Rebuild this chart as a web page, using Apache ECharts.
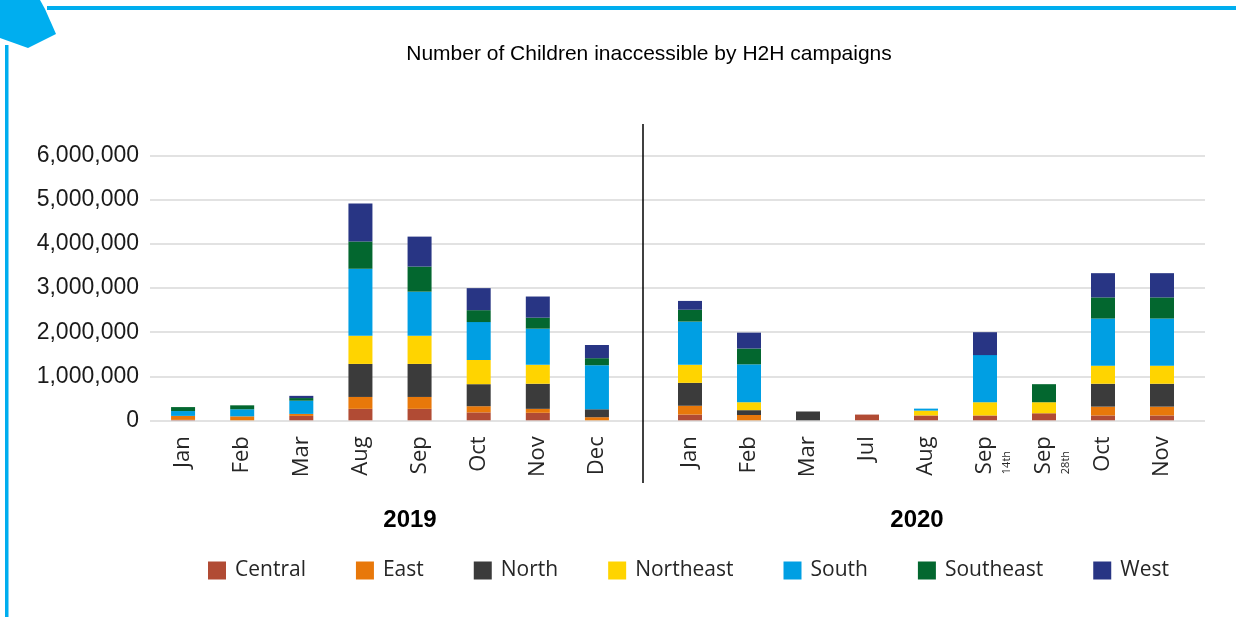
<!DOCTYPE html>
<html>
<head>
<meta charset="utf-8">
<script src="https://cdn.jsdelivr.net/npm/echarts@6.0.0/dist/echarts.min.js"></script>
<style>
  html, body { margin: 0; padding: 0; background: #fff; }
  #chart { width: 1236px; height: 617px; }
</style>
</head>
<body>
<div id="chart"></div>
<script>
const months2019 = ['Jan', 'Feb', 'Mar', 'Aug', 'Sep', 'Oct', 'Nov', 'Dec'];
const months2020 = ['Jan', 'Feb', 'Mar', 'Jul', 'Aug', 'Sep|14th', 'Sep|28th', 'Oct', 'Nov'];
const yTicks = [0, 1000000, 2000000, 3000000, 4000000, 5000000, 6000000];

// 17 values each: 8 for 2019, then 9 for 2020
const central   = [10000, 0, 100000, 260000, 260000, 180000, 170000, 0,
                   130000, 0, 0, 130000, 110000, 110000, 160000, 110000, 110000];
const east      = [90000, 90000, 45000, 270000, 270000, 140000, 90000, 70000,
                   200000, 120000, 0, 0, 0, 0, 0, 200000, 200000];
const north     = [0, 0, 0, 750000, 750000, 500000, 570000, 180000,
                   520000, 110000, 200000, 0, 0, 0, 0, 520000, 520000];
const northeast = [0, 0, 0, 640000, 640000, 550000, 430000, 0,
                   410000, 180000, 0, 0, 110000, 300000, 250000, 410000, 410000];
const south     = [110000, 160000, 300000, 1520000, 1000000, 860000, 820000, 1000000,
                   980000, 860000, 0, 0, 45000, 1070000, 0, 1070000, 1070000];
const southeast = [90000, 90000, 60000, 620000, 570000, 270000, 250000, 160000,
                   270000, 360000, 0, 0, 0, 0, 410000, 480000, 480000];
const west      = [0, 0, 50000, 860000, 680000, 500000, 480000, 300000,
                   200000, 360000, 0, 0, 0, 520000, 0, 550000, 550000];

const regions = [
  { name: 'Central', color: '#B14B34', data: central },
  { name: 'East', color: '#E8780A', data: east },
  { name: 'North', color: '#3B3B3B', data: north },
  { name: 'Northeast', color: '#FFD400', data: northeast },
  { name: 'South', color: '#009FE3', data: south },
  { name: 'Southeast', color: '#03672F', data: southeast },
  { name: 'West', color: '#283584', data: west }
];

const labelFont = "'Open Sans', 'Noto Sans', sans-serif";
const numFont = "'Liberation Sans', Arial, sans-serif";
const plotTop = 156;
const plotHeight = 264.3;

function monthAxis(gridIndex, data, year, namePad) {
  return {
    gridIndex: gridIndex,
    type: 'category',
    data: data,
    axisLine: { show: false },
    axisTick: { show: false },
    axisLabel: {
      rotate: 90,
      margin: 16,
      fontFamily: labelFont,
      fontSize: 22,
      color: '#262626',
      formatter: v => {
        const parts = v.split('|');
        if (parts.length === 1) return parts[0];
        return '{c| }\n{a|' + parts[0] + '}\n{b|' + parts[1] + '}';
      },
      rich: {
        a: { fontFamily: labelFont, fontSize: 22, color: '#262626', lineHeight: 26 },
        b: { fontFamily: labelFont, fontSize: 11, color: '#262626', lineHeight: 18, align: 'left' },
        c: { fontSize: 11, lineHeight: 18 }
      }
    },
    name: year,
    nameLocation: 'middle',
    nameGap: 88,
    nameTextStyle: {
      fontFamily: numFont,
      fontSize: 24,
      fontWeight: 'bold',
      color: '#000',
      padding: namePad
    }
  };
}

function hiddenY(gridIndex) {
  return { gridIndex: gridIndex, type: 'value', min: 0, max: 6000000, interval: 1000000, show: false };
}

const series = [];
[[1, 0, 8], [2, 8, 17]].forEach(([idx, from, to]) => {
  regions.forEach(r => {
    series.push({
      name: r.name,
      type: 'bar',
      xAxisIndex: idx,
      yAxisIndex: idx,
      stack: 'g' + idx,
      barWidth: 24,
      itemStyle: { color: r.color },
      data: r.data.slice(from, to)
    });
  });
});

const chart = echarts.init(document.getElementById('chart'));
chart.setOption({
  animation: false,
  backgroundColor: '#fff',
  title: {
    text: 'Number of Children inaccessible by H2H campaigns',
    left: 644,
    top: 39,
    textAlign: 'center',
    textStyle: { fontFamily: numFont, fontSize: 21, fontWeight: 'normal', color: '#000' }
  },
  legend: {
    data: regions.map(r => r.name),
    left: 203,
    top: 555,
    itemWidth: 18,
    itemHeight: 18,
    itemGap: 50,
    icon: 'rect',
    textStyle: { fontFamily: labelFont, fontSize: 21, color: '#262626', padding: [0, 0, 0, 4] }
  },
  grid: [
    { left: 150, right: 31, top: plotTop, height: plotHeight },
    { left: 153.5, width: 473, top: plotTop, height: plotHeight },
    { left: 660.5, width: 531, top: plotTop, height: plotHeight }
  ],
  xAxis: [
    { gridIndex: 0, type: 'category', data: [''], show: false },
    monthAxis(1, months2019, '2019', [0, 0, 0, 40]),
    monthAxis(2, months2020, '2020', [0, 18, 0, 0])
  ],
  yAxis: [
    {
      gridIndex: 0,
      type: 'value',
      min: 0,
      max: 6000000,
      interval: 1000000,
      axisLine: { show: false },
      axisTick: { show: false },
      splitLine: { lineStyle: { color: '#D9D9D9', width: 1.5 } },
      axisLabel: {
        margin: 11,
        fontFamily: numFont,
        fontSize: 23,
        color: '#1a1a1a',
        formatter: v => yTicks.includes(v) ? v.toLocaleString('en-US') : ''
      }
    },
    hiddenY(1),
    hiddenY(2)
  ],
  series: series,
  graphic: [
    // divider between years
    { type: 'line', shape: { x1: 643, y1: 124, x2: 643, y2: 483 }, style: { stroke: '#000', lineWidth: 1.5 }, z: 10 },
    // frame decoration
    { type: 'rect', shape: { x: 47, y: 6, width: 1189, height: 4 }, style: { fill: '#00AEEF' } },
    { type: 'rect', shape: { x: 5, y: 45, width: 3.5, height: 572 }, style: { fill: '#00AEEF' } },
    { type: 'polygon', shape: { points: [[0, 0], [40, 0], [45, 9], [56, 34], [28, 48], [0, 38]] }, style: { fill: '#00AEEF' } }
  ]
});

window.addEventListener('resize', () => chart.resize());
</script>
</body>
</html>
